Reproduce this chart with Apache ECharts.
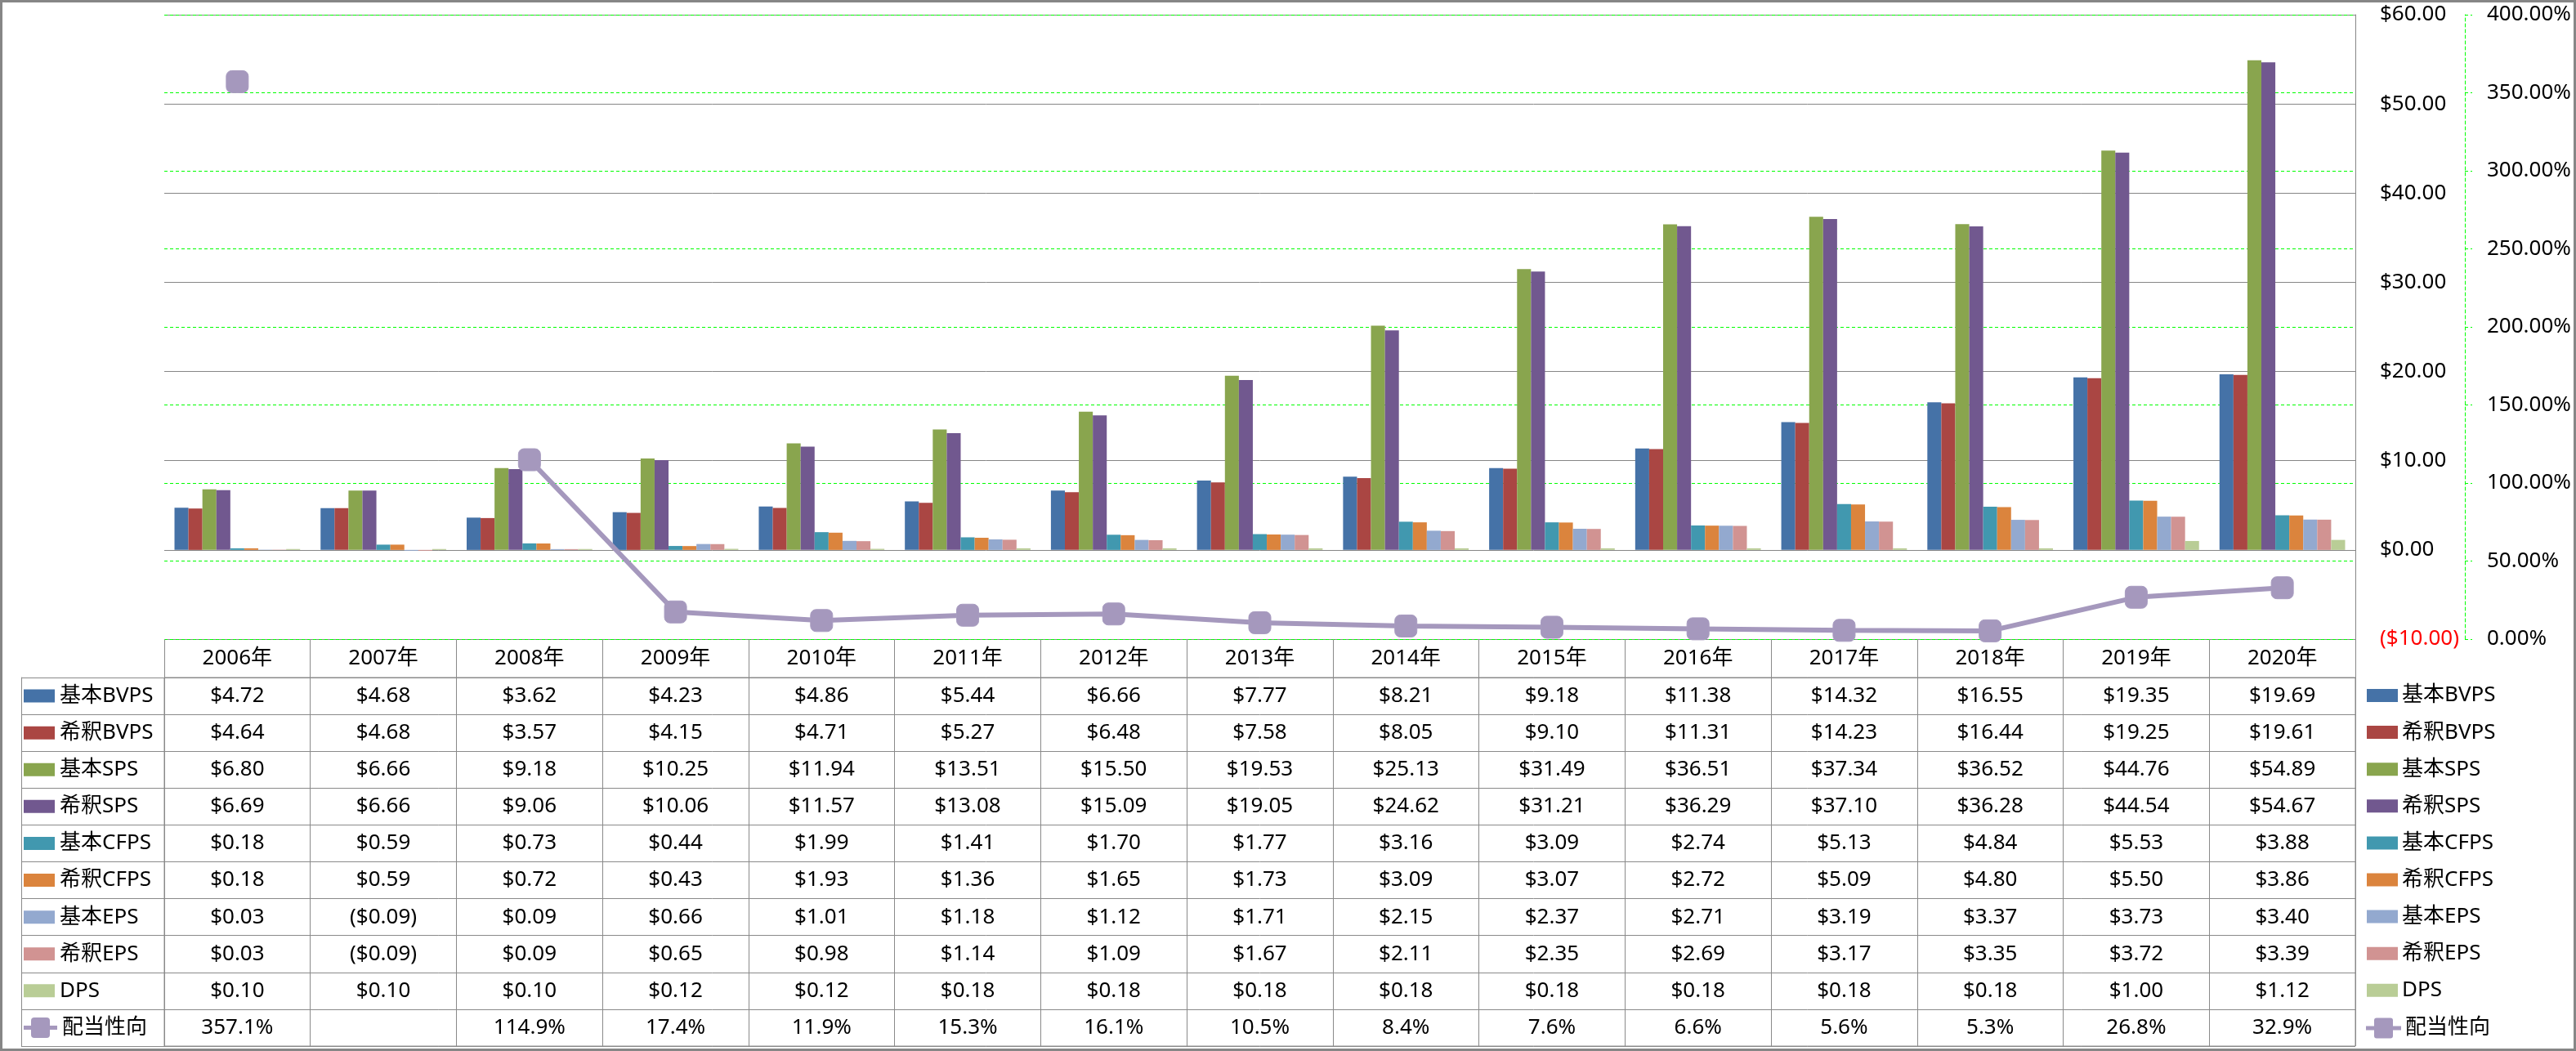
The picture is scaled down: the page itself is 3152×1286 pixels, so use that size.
<!DOCTYPE html>
<html>
<head>
<meta charset="utf-8">
<script src="https://cdn.jsdelivr.net/npm/echarts@6/dist/echarts.min.js"></script>
<style>
html,body{margin:0;padding:0;background:#fff;}
#chart{width:3152px;height:1286px;}
</style>
</head>
<body>
<div id="chart"></div>
<script>
// ---- data ----
var years = ['2006年','2007年','2008年','2009年','2010年','2011年','2012年','2013年','2014年','2015年','2016年','2017年','2018年','2019年','2020年'];
var seriesNames = ['基本BVPS','希釈BVPS','基本SPS','希釈SPS','基本CFPS','希釈CFPS','基本EPS','希釈EPS','DPS'];
var ratioName = '配当性向';
var bvpsBasic = [4.72,4.68,3.62,4.23,4.86,5.44,6.66,7.77,8.21,9.18,11.38,14.32,16.55,19.35,19.69];
var bvpsDil   = [4.64,4.68,3.57,4.15,4.71,5.27,6.48,7.58,8.05,9.10,11.31,14.23,16.44,19.25,19.61];
var spsBasic  = [6.80,6.66,9.18,10.25,11.94,13.51,15.50,19.53,25.13,31.49,36.51,37.34,36.52,44.76,54.89];
var spsDil    = [6.69,6.66,9.06,10.06,11.57,13.08,15.09,19.05,24.62,31.21,36.29,37.10,36.28,44.54,54.67];
var cfpsBasic = [0.18,0.59,0.73,0.44,1.99,1.41,1.70,1.77,3.16,3.09,2.74,5.13,4.84,5.53,3.88];
var cfpsDil   = [0.18,0.59,0.72,0.43,1.93,1.36,1.65,1.73,3.09,3.07,2.72,5.09,4.80,5.50,3.86];
var epsBasic  = [0.03,-0.09,0.09,0.66,1.01,1.18,1.12,1.71,2.15,2.37,2.71,3.19,3.37,3.73,3.40];
var epsDil    = [0.03,-0.09,0.09,0.65,0.98,1.14,1.09,1.67,2.11,2.35,2.69,3.17,3.35,3.72,3.39];
var dps       = [0.10,0.10,0.10,0.12,0.12,0.18,0.18,0.18,0.18,0.18,0.18,0.18,0.18,1.00,1.12];
var payout    = [357.1,null,114.9,17.4,11.9,15.3,16.1,10.5,8.4,7.6,6.6,5.6,5.3,26.8,32.9];

// ---- styles ----
var barColors = ['#4572A7','#AA4643','#89A54E','#71588F','#4198AF','#DB843D','#93A9CF','#D19392','#B9CD96'];
var lineColor = '#A598BD';
var FONT = "'Noto Sans','Noto Sans CJK JP',sans-serif";
var FS = 26;
var gridGray = '#868686';
var tableGray = '#8a8a8a';
var green = '#00ff00';
var lineKeyIcon = 'path://M0,10L10,10L10,3Q10,0 13,0L30,0Q33,0 33,3L33,10L43,10L43,15L33,15L33,22Q33,25 30,25L13,25Q10,25 10,22L10,15L0,15Z';

var barData = [bvpsBasic,bvpsDil,spsBasic,spsDil,cfpsBasic,cfpsDil,epsBasic,epsDil,dps];
var rowNames = seriesNames.concat([ratioName]);

function dollar(v){
  if (v === null || v === undefined) return '';
  return v < 0 ? '($' + (-v).toFixed(2) + ')' : '$' + v.toFixed(2);
}
function pct1(v){ return (v === null || v === undefined) ? '' : v.toFixed(1) + '%'; }

// table cells
var cellData = [], cellText = [];
for (var r = 0; r < rowNames.length; r++) {
  for (var c = 0; c < years.length; c++) {
    var t = r < barData.length ? dollar(barData[r][c]) : pct1(payout[c]);
    cellData.push([c, r]);
    cellText.push(t);
  }
}

// rich styles for row labels
var rich = { t: { fontSize: FS, fontFamily: FONT, color: '#000', padding: [0,0,0,6], verticalAlign: 'middle' },
             ln: { width: 9, height: 5, backgroundColor: lineColor, verticalAlign: 'middle' },
             mk: { width: 23, height: 25, backgroundColor: lineColor, borderRadius: 4, verticalAlign: 'middle' } };
barColors.forEach(function(col, i){ rich['k' + i] = { width: 38, height: 16, backgroundColor: col, verticalAlign: 'middle' }; });

var series = [];
seriesNames.forEach(function(n, i){
  series.push({
    name: n, type: 'bar', xAxisIndex: 0, yAxisIndex: 0,
    data: barData[i], barGap: '0%', barCategoryGap: '14%',
    itemStyle: { color: barColors[i] }, z: 2
  });
});
series.push({
  name: ratioName, type: 'line', xAxisIndex: 0, yAxisIndex: 1,
  data: payout, connectNulls: false,
  symbol: 'roundRect', symbolSize: 27, showAllSymbol: true,
  lineStyle: { color: lineColor, width: 6 },
  itemStyle: { color: lineColor, borderColor: '#A89CC0', borderWidth: 1 },
  z: 5
});
series.push({
  type: 'custom', xAxisIndex: 1, yAxisIndex: 2, data: cellData, silent: true,
  renderItem: function(params, api){
    var p = api.coord([api.value(0), api.value(1)]);
    return { type: 'text', x: p[0], y: p[1],
      style: { text: cellText[params.dataIndex], fontSize: FS, fontFamily: FONT, fill: '#000', align: 'center', verticalAlign: 'middle' } };
  }
});

var option = {
  animation: false,
  backgroundColor: '#fff',
  textStyle: { fontFamily: FONT },
  graphic: [{ type: 'rect', shape: { x: 1.5, y: 1.5, width: 3149, height: 1283 }, style: { fill: null, stroke: '#868686', lineWidth: 3 }, silent: true, z: 100 }],
  legend: [{
    orient: 'vertical', left: 2896, top: 836, padding: 0,
    itemWidth: 38, itemHeight: 16, itemGap: 15.1,
    textStyle: { fontSize: FS, fontFamily: FONT, color: '#000', lineHeight: 30 },
    data: seriesNames.map(function(n){ return { name: n, icon: 'rect' }; })
  }, {
    orient: 'vertical', left: 2895, top: 1245, padding: 0,
    itemWidth: 43, itemHeight: 25,
    textStyle: { fontSize: FS, fontFamily: FONT, color: '#000', lineHeight: 25 },
    data: [{ name: ratioName, icon: lineKeyIcon, itemStyle: { color: lineColor, borderWidth: 0 } }]
  }],
  grid: [
    { left: 201, width: 2681, top: 18, height: 764 },
    { left: 201, width: 2681, top: 829, height: 451, show: true, borderColor: tableGray, borderWidth: 1 }
  ],
  xAxis: [
    { type: 'category', gridIndex: 0, data: years, boundaryGap: true,
      axisLine: { show: false }, axisTick: { show: false }, axisLabel: { show: false }, splitLine: { show: false } },
    { type: 'category', gridIndex: 1, data: years, position: 'top', boundaryGap: true,
      axisLine: { show: true, lineStyle: { color: tableGray, width: 1 } },
      axisTick: { show: true, inside: false, length: 47, interval: 0, lineStyle: { color: tableGray, width: 1 } },
      axisLabel: { show: true, interval: 0, margin: 23.5, verticalAlign: 'middle', fontSize: FS, fontFamily: FONT, color: '#000' },
      splitLine: { show: true, interval: 0, lineStyle: { color: tableGray, width: 1 } } }
  ],
  yAxis: [
    { type: 'value', gridIndex: 0, position: 'right', min: -10, max: 60, interval: 10,
      axisLine: { show: true, lineStyle: { color: gridGray, width: 1 } },
      axisTick: { show: false },
      splitLine: { show: true, lineStyle: { color: gridGray, width: 1 } },
      axisLabel: { margin: 30, align: 'left', fontSize: FS, fontFamily: FONT,
        formatter: function(v){ return dollar(v); },
        color: function(v){ return parseFloat(v) < 0 ? '#ff0000' : '#000'; } } },
    { type: 'value', gridIndex: 0, position: 'right', offset: 134, min: 0, max: 400, interval: 50,
      axisLine: { show: true, lineStyle: { color: green, width: 1, type: [4,3] } },
      axisTick: { show: true, inside: false, length: 9, lineStyle: { color: green, width: 1, type: [4,3] } },
      splitLine: { show: true, lineStyle: { color: green, width: 1, type: [4,3] } },
      axisLabel: { margin: 27, align: 'left', fontSize: FS, fontFamily: FONT, color: '#000',
        formatter: function(v){ return v.toFixed(2) + '%'; } } },
    { type: 'category', gridIndex: 1, data: rowNames, inverse: true, position: 'left', boundaryGap: true,
      axisLine: { show: true, lineStyle: { color: tableGray, width: 1 } },
      axisTick: { show: true, inside: false, length: 175, interval: 0, lineStyle: { color: tableGray, width: 1 } },
      splitLine: { show: true, interval: 0, lineStyle: { color: tableGray, width: 1 } },
      axisLabel: { show: true, interval: 0, margin: 172, align: 'left', rich: rich,
        formatter: function(v, i){
          if (i < seriesNames.length) return '{k' + i + '|}{t|' + v + '}';
          return '{ln|}{mk|}{ln|}{t|' + v + '}';
        } } },
    { type: 'category', gridIndex: 1, data: rowNames, inverse: true, position: 'left', offset: 175,
      axisLine: { show: true, lineStyle: { color: tableGray, width: 1 } },
      axisTick: { show: false }, axisLabel: { show: false }, splitLine: { show: false } }
  ],
  series: series
};

var chart = echarts.init(document.getElementById('chart'));
chart.setOption(option);
</script>
</body>
</html>
